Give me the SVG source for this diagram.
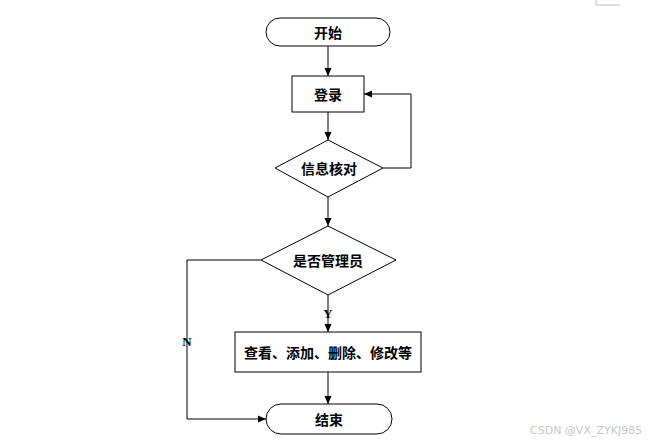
<svg xmlns="http://www.w3.org/2000/svg" width="654" height="444" viewBox="0 0 654 444">
<style>
.s{fill:#fff;stroke:#000;stroke-width:1}
.l{fill:none;stroke:#000;stroke-width:1}
.t{font-family:"Noto Sans CJK SC","Liberation Serif",serif;font-size:14px;font-weight:bold;text-anchor:middle;dominant-baseline:central;fill:#000}
.y{font-family:"Liberation Serif",serif;font-size:13px;font-weight:bold;text-anchor:middle;dominant-baseline:central}
.w{font-family:"DejaVu Sans","Liberation Sans",sans-serif;font-size:11px;fill:#c8c8c8}
</style>
<defs>
<marker id="a" markerWidth="8" markerHeight="8" refX="8" refY="4" orient="auto" markerUnits="userSpaceOnUse">
<path d="M0,0.5 L8,4 L0,7.5 Z" fill="#000"/>
</marker>
</defs>
<rect width="654" height="444" fill="#fff"/>
<path d="M596,0 V5 H620" fill="none" stroke="#bbb" stroke-width="1"/>
<g id="connectors">
<path class="l" d="M328,46 V76" marker-end="url(#a)"/>
<path class="l" d="M328,112 V140" marker-end="url(#a)"/>
<path class="l" d="M383,168 H411 V94 H364" marker-end="url(#a)"/>
<path class="l" d="M328,197 V226" marker-end="url(#a)"/>
<path class="l" d="M328,295 V332" marker-end="url(#a)"/>
<path class="l" d="M328,372 V404" marker-end="url(#a)"/>
<path class="l" d="M261,260 H187 V419 H266" marker-end="url(#a)"/>
<text class="y" x="328" y="313">Y</text>
<text class="y" x="187" y="341">N</text>
</g>
<g id="start">
<rect class="s" x="266" y="18" width="124" height="28" rx="14"/>
<text class="t" x="328" y="32">开始</text>
</g>
<g id="login">
<rect class="s" x="292" y="76" width="72" height="36"/>
<text class="t" x="328" y="94">登录</text>
</g>
<g id="verify">
<polygon class="s" points="328,140 383,168 328,197 275,168"/>
<text class="t" x="329" y="168">信息核对</text>
</g>
<g id="admin">
<polygon class="s" points="328,226 396,260 328,295 261,260"/>
<text class="t" x="328" y="260">是否管理员</text>
</g>
<g id="ops">
<rect class="s" x="235" y="332" width="186" height="40"/>
<text class="t" x="328" y="352">查看、添加、删除、修改等</text>
</g>
<g id="end">
<rect class="s" x="266" y="404" width="126" height="30" rx="15"/>
<text class="t" x="329" y="419">结束</text>
</g>
<text class="w" x="530" y="434">CSDN @VX_ZYKJ985</text>
</svg>
